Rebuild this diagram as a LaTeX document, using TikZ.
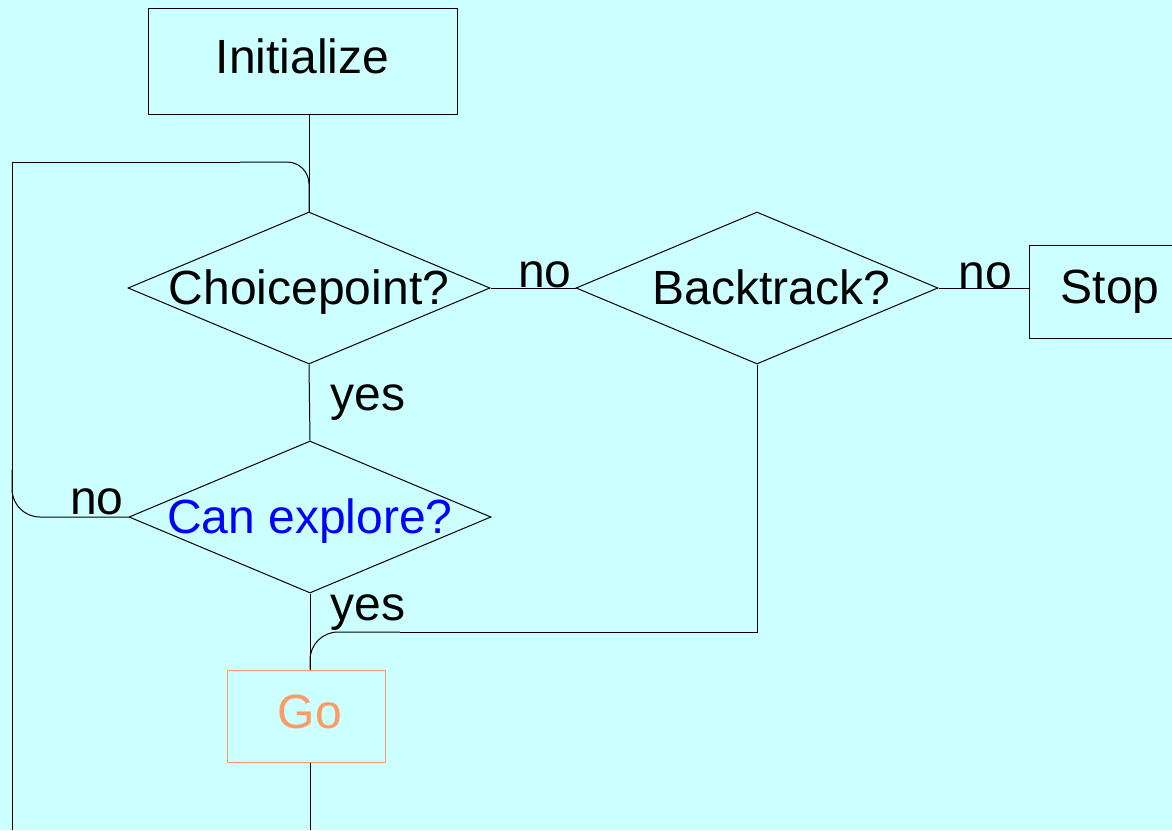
\documentclass[tikz,border=0pt]{standalone}
\usepackage{fontspec}
\setmainfont{Liberation Sans}
\usetikzlibrary{shapes.geometric,positioning}
\definecolor{flowbg}{RGB}{204,255,255}
\definecolor{goorange}{RGB}{255,153,102}
\tikzset{
  box/.style={draw,rectangle,inner sep=0pt,text height=12pt,text depth=0pt},
  decision/.style={draw,diamond,inner sep=0pt,shape aspect=2.38,
    minimum width=181pt,minimum height=76pt,text height=16pt,text depth=0pt},
  lbl/.style={inner sep=0pt,text height=12pt,text depth=0pt},
}

\begin{document}
\begin{tikzpicture}[x=0.5pt,y=-0.5pt,font=\fontsize{24}{29}\selectfont,line width=0.5pt]
  \useasboundingbox (0,0) rectangle (1172,830);
  \fill[flowbg] (0,0) rectangle (1172,830);
  \clip (0,0) rectangle (1172,830);

  \node[box,minimum width=154.5pt,minimum height=53pt] (init) at (302.5,61) {Initialize};
  \node[decision] (choice) at (309,288) {Choicepoint?};
  \node[decision] (back) at (757,288) {\hspace*{14pt}Backtrack?};
  \node[decision,text=blue] (canexp) at (310,517) {Can explore?};
  \node[box,minimum width=81pt,minimum height=46.5pt] (stop) at (1110,291.5) {Stop};
  \node[box,draw=goorange,text=goorange,minimum width=79pt,minimum height=46pt] (go) at (306,716) {\hspace*{4pt}Go};

  \coordinate (leftbot) at (12,830);
  \coordinate (lefttop) at (12,162);
  \coordinate (looptop) at (240,162);
  \coordinate (loopin) at (12,470);
  \coordinate (join) at (757,632);
  \coordinate (joinleft) at (400,632);

  \draw (choice.north |- init.south) -- (choice.north);
  \draw (choice.east) -- (choice.east -| back.west);
  \draw (back.east) -- (back.east -| stop.west);
  \draw (choice.south) -- (canexp.north);
  \draw (canexp.south) -- (canexp.south |- go.north);
  \draw (canexp.south |- go.south) -- (canexp.south |- leftbot);

  % back edges
  \draw (leftbot) -- (lefttop) -- (looptop);
  \draw[rounded corners=11pt] (looptop) -| (choice.north);
  \draw[rounded corners=14pt] (canexp.west) -| (loopin);
  \draw (back.south) -- (join) -- (joinleft);
  \draw[rounded corners=14pt] (joinleft) -| (canexp.south |- go.north);

  \node[lbl] (no1) at (545,275) {no};
  \node[lbl] (no2) at (985,276) {no};
  \node[lbl] (no3) at (97,502) {no};
  \node[lbl] (yes1) at (368,398) {yes};
  \node[lbl] (yes2) at (368,608) {yes};
\end{tikzpicture}
\end{document}
